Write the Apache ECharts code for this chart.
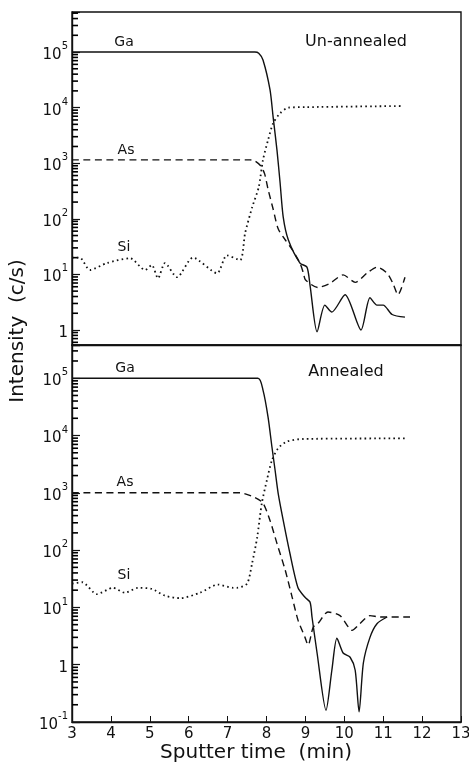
<!DOCTYPE html>
<html>
<head>
<meta charset="utf-8">
<script src="https://cdn.jsdelivr.net/npm/echarts@6/dist/echarts.min.js"></script>
<style>
  html, body { margin: 0; padding: 0; background: #fff; }
  #chart { width: 469px; height: 767px; }
</style>
</head>
<body>
<div id="chart"></div>
<script>
// sputter time (min), intensity (c/s)
var xTicks = [3, 4, 5, 6, 7, 8, 9, 10, 11, 12, 13];

var topGa = [[3, 1.0e5], [7.7, 1.0e5], [7.8, 9.5e4], [7.91, 7.2e4], [8.09, 2.1e4], [8.17, 6.8e3],
  [8.27, 1.7e3], [8.35, 440], [8.43, 107], [8.56, 42], [8.86, 16], [9.04, 13.5], [9.12, 6.3],
  [9.3, 0.93], [9.5, 2.8], [9.68, 2.1], [10.02, 4.3], [10.43, 1.0], [10.66, 3.8], [10.84, 2.8],
  [11.0, 2.8], [11.23, 1.9], [11.56, 1.7]];
var topAs = [[3, 1.15e3], [7.58, 1.15e3], [7.7, 1.1e3], [7.85, 900], [7.95, 650], [8.04, 340],
  [8.17, 150], [8.3, 66], [8.48, 42], [8.66, 28], [8.86, 16], [8.95, 10.5], [9.0, 8], [9.32, 5.8],
  [9.63, 6.9], [9.97, 9.8], [10.28, 7.2], [10.58, 10.5], [10.84, 13.5], [11.1, 10.5], [11.25, 6.9],
  [11.38, 4.3], [11.56, 8.9]];
var topSi = [[3, 20], [3.2, 20], [3.46, 12], [3.9, 16], [4.49, 19.5], [4.88, 12], [5.05, 14.8],
  [5.21, 8.5], [5.39, 16], [5.7, 8.9], [6.11, 20], [6.73, 10.5], [6.98, 22], [7.32, 18], [7.45, 55],
  [7.63, 160], [7.8, 370], [7.91, 1150], [8.04, 2600], [8.17, 5200], [8.35, 7900], [8.56, 1.0e4],
  [9.0, 1.02e4], [11.5, 1.07e4]];

var botGa = [[3, 1.0e5], [7.78, 1.0e5], [7.91, 6.2e4], [8.04, 2.1e4], [8.14, 6.3e3], [8.22, 2.5e3],
  [8.3, 980], [8.43, 330], [8.6, 89], [8.81, 22], [8.99, 15], [9.12, 12.3], [9.17, 6.8], [9.3, 1.6],
  [9.53, 0.16], [9.68, 0.8], [9.81, 2.9], [9.97, 1.6], [10.15, 1.35], [10.28, 0.8], [10.38, 0.15],
  [10.49, 1.07], [10.66, 3.0], [10.84, 5.2], [11.1, 6.8]];
var botAs = [[3, 1.0e3], [7.32, 1.0e3], [7.7, 830], [7.91, 660], [8.09, 330], [8.27, 130],
  [8.48, 45], [8.66, 15], [8.81, 6], [8.99, 3.0], [9.07, 2.2], [9.2, 4.5], [9.32, 5.2], [9.58, 8.3],
  [9.89, 7.2], [10.2, 4.0], [10.4, 5.2], [10.66, 7.2], [10.92, 6.8], [11.69, 6.8]];
var botSi = [[3, 26], [3.26, 27.5], [3.64, 17], [4.05, 22], [4.36, 18], [4.7, 22], [5.05, 21],
  [5.39, 16], [5.78, 14.5], [6.29, 18], [6.75, 25], [7.14, 22], [7.24, 22], [7.5, 26], [7.63, 59],
  [7.76, 166], [7.88, 660], [8.01, 1660], [8.14, 3700], [8.3, 6000], [8.53, 7900], [8.94, 8700],
  [11.56, 8900]];

var topRange = [Math.pow(10, -0.27), Math.pow(10, 5.72)];
var botRange = [0.1, Math.pow(10, 5.58)];

var ink = '#111';
var font = 'DejaVu Sans';

// 2..9 x 10^n minor ticks on the log axes, sitting just inside the left edge
var minorX = 3.077;
function minorVals(range) {
  var out = [];
  for (var n = -2; n <= 6; n++) {
    for (var k = 2; k <= 9; k++) {
      var v = k * Math.pow(10, n);
      if (v > range[0] && v < range[1]) out.push([minorX, v]);
    }
  }
  return out;
}

function decadeLabel(v) {
  var e = Math.log10(v);
  var r = Math.round(e);
  if (Math.abs(e - r) > 1e-3) return '';
  if (r === 0) return '{b|1}';
  return '{b|10}{s|' + r + '}';
}

function yAxis(idx, range) {
  return {
    type: 'log', logBase: 10, gridIndex: idx,
    min: range[0], max: range[1],
    axisLine: { show: true, lineStyle: { color: ink, width: 1.4 } },
    axisTick: { show: true, inside: true, length: 8, lineStyle: { color: ink, width: 1.2 } },
    splitLine: { show: false },
    axisLabel: {
      margin: 4, color: ink, fontFamily: font,
      formatter: decadeLabel,
      rich: {
        b: { fontSize: 15, fontFamily: font, color: ink, padding: [6, 0, 0, 0] },
        s: { fontSize: 10, fontFamily: font, color: ink, verticalAlign: 'top' }
      }
    }
  };
}

function line(name, data, idx, dash) {
  return {
    type: 'line', name: name, data: data, xAxisIndex: idx, yAxisIndex: idx,
    showSymbol: false, smooth: 0.25, animation: false, z: 3,
    lineStyle: { color: ink, width: dash === 'dot' ? 1.8 : 1.4,
      type: dash === 'dot' ? [1.6, 3.2] : dash === 'dash' ? [7, 4.5] : 'solid' }
  };
}

function minorSeries(idx, range) {
  return {
    type: 'scatter', xAxisIndex: idx, yAxisIndex: idx, clip: false,
    data: minorVals(range),
    symbol: 'rect', symbolSize: [6, 1.6],
    itemStyle: { color: '#000', opacity: 1 }
  };
}

var chart = echarts.init(document.getElementById('chart'), null, { renderer: 'canvas' });

chart.setOption({
  backgroundColor: '#fff',
  animation: false,
  grid: [
    { left: 72, top: 12, width: 389, height: 333, show: true, borderColor: ink, borderWidth: 1.4,
      outerBoundsMode: 'none', containLabel: false },
    { left: 72, top: 345, width: 389, height: 377, show: true, borderColor: ink, borderWidth: 1.4,
      outerBoundsMode: 'none', containLabel: false }
  ],
  xAxis: [
    { type: 'value', gridIndex: 0, min: 3, max: 13, interval: 1,
      axisLine: { show: true, lineStyle: { color: ink, width: 1.4 } },
      axisTick: { show: false }, axisLabel: { show: false }, splitLine: { show: false } },
    { type: 'value', gridIndex: 1, min: 3, max: 13, interval: 1,
      axisLine: { show: true, lineStyle: { color: ink, width: 1.4 } },
      axisTick: { show: true, inside: true, length: 6, lineStyle: { color: ink } },
      axisLabel: { margin: 5, fontSize: 15, fontFamily: font, color: ink,
        formatter: function (v) { return xTicks.indexOf(v) >= 0 ? String(v) : ''; } },
      splitLine: { show: false } }
  ],
  yAxis: [yAxis(0, topRange), yAxis(1, botRange)],
  series: [
    line('Ga', topGa, 0, 'solid'), line('As', topAs, 0, 'dash'), line('Si', topSi, 0, 'dot'),
    line('Ga', botGa, 1, 'solid'), line('As', botAs, 1, 'dash'), line('Si', botSi, 1, 'dot'),
    minorSeries(0, topRange), minorSeries(1, botRange)
  ],
  graphic: [
    { type: 'text', x: 18, y: 331, rotation: Math.PI / 2,
      style: { text: 'Intensity  (c/s)', font: '20px "DejaVu Sans"', fill: ink, align: 'center', verticalAlign: 'middle' } },
    { type: 'text', x: 256, y: 753,
      style: { text: 'Sputter time  (min)', font: '20px "DejaVu Sans"', fill: ink, align: 'center', verticalAlign: 'middle' } },
    { type: 'text', x: 356, y: 42,
      style: { text: 'Un-annealed', font: '16px "DejaVu Sans"', fill: ink, align: 'center', verticalAlign: 'middle' } },
    { type: 'text', x: 346, y: 372,
      style: { text: 'Annealed', font: '16px "DejaVu Sans"', fill: ink, align: 'center', verticalAlign: 'middle' } },
    { type: 'text', x: 124, y: 42, style: { text: 'Ga', font: '14px "DejaVu Sans"', fill: ink, align: 'center', verticalAlign: 'middle' } },
    { type: 'text', x: 126, y: 150, style: { text: 'As', font: '14px "DejaVu Sans"', fill: ink, align: 'center', verticalAlign: 'middle' } },
    { type: 'text', x: 124, y: 247, style: { text: 'Si', font: '14px "DejaVu Sans"', fill: ink, align: 'center', verticalAlign: 'middle' } },
    { type: 'text', x: 125, y: 368, style: { text: 'Ga', font: '14px "DejaVu Sans"', fill: ink, align: 'center', verticalAlign: 'middle' } },
    { type: 'text', x: 125, y: 482, style: { text: 'As', font: '14px "DejaVu Sans"', fill: ink, align: 'center', verticalAlign: 'middle' } },
    { type: 'text', x: 124, y: 575, style: { text: 'Si', font: '14px "DejaVu Sans"', fill: ink, align: 'center', verticalAlign: 'middle' } }
  ]
});
</script>
</body>
</html>
